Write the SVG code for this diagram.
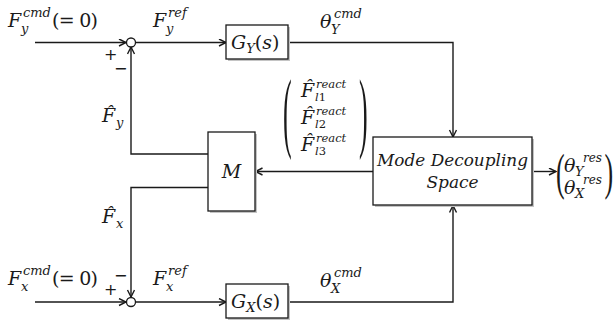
<svg xmlns="http://www.w3.org/2000/svg" width="613" height="324" viewBox="0 0 613 324">
  <defs>
    <marker id="arr" markerUnits="userSpaceOnUse" markerWidth="10" markerHeight="10" refX="8" refY="4" orient="auto">
      <path d="M1,0.5 L8,4 L1,7.5" fill="none" stroke="#1a1a1a" stroke-width="1.4"/>
    </marker>
  </defs>
  <style>
    .ln { fill: none; stroke: #1a1a1a; stroke-width: 1.4; }
    .box { fill: #ffffff; stroke: #1a1a1a; stroke-width: 1.3; }
    .shadow { fill: #c4c4c4; }
    .sum { fill: #ffffff; stroke: #1a1a1a; stroke-width: 1.3; }
    text { font-family: "DejaVu Serif", "Liberation Serif", serif; fill: #1a1a1a; }
    .m { font-size: 19px; font-style: italic; }
    .up { font-style: normal; }
    .s { font-size: 13px; font-style: italic; }
    .r { font-size: 12px; font-style: italic; }
    .v { font-size: 11.5px; font-style: italic; }
    .lbl { font-size: 17px; font-style: italic; }
    .pm { font-family: "DejaVu Sans", sans-serif; font-size: 16px; }
    .par { font-family: "Liberation Serif", serif; font-size: 26px; font-weight: normal; }
  </style>

  <!-- signal lines -->
  <g id="connectors">
    <path class="ln" d="M35,42.5 H126" marker-end="url(#arr)"/>
    <path class="ln" d="M136,42.5 H226" marker-end="url(#arr)"/>
    <path class="ln" d="M288,42.5 H453 V137" marker-end="url(#arr)"/>
    <path class="ln" d="M373,171.5 H255.5" marker-end="url(#arr)"/>
    <path class="ln" d="M208,154 H131 V47" marker-end="url(#arr)"/>
    <path class="ln" d="M208,187.5 H131 V297" marker-end="url(#arr)"/>
    <path class="ln" d="M35,302 H126" marker-end="url(#arr)"/>
    <path class="ln" d="M136,302 H226" marker-end="url(#arr)"/>
    <path class="ln" d="M288,302 H453 V205.5" marker-end="url(#arr)"/>
    <path class="ln" d="M532,171.5 H556" marker-end="url(#arr)"/>
  </g>

  <!-- summing junction, Y axis -->
  <g id="sumY">
    <circle class="sum" cx="131" cy="42.5" r="4.5"/>
    <text class="pm" x="104" y="60">+</text>
    <text class="pm" x="114" y="74">−</text>
  </g>

  <!-- summing junction, X axis -->
  <g id="sumX">
    <circle class="sum" cx="131" cy="302" r="4.5"/>
    <text class="pm" x="114" y="281">−</text>
    <text class="pm" x="104" y="295">+</text>
  </g>

  <!-- controller G_Y(s) -->
  <g id="GY">
    <rect class="shadow" x="228" y="27" width="62" height="34"/>
    <rect class="box" x="226" y="25" width="62" height="34"/>
    <text class="m" x="231" y="48.5">G<tspan class="s" dy="4">Y</tspan><tspan class="up" dy="-4">(</tspan>s<tspan class="up">)</tspan></text>
  </g>

  <!-- controller G_X(s) -->
  <g id="GX">
    <rect class="shadow" x="228" y="286" width="62" height="34"/>
    <rect class="box" x="226" y="284" width="62" height="34"/>
    <text class="m" x="231" y="307.5">G<tspan class="s" dy="4">X</tspan><tspan class="up" dy="-4">(</tspan>s<tspan class="up">)</tspan></text>
  </g>

  <!-- force mapping M -->
  <g id="M">
    <rect class="shadow" x="210" y="134" width="47" height="79"/>
    <rect class="box" x="208" y="132" width="47" height="79"/>
    <text class="m" x="231.5" y="178" text-anchor="middle">M</text>
  </g>

  <!-- mode decoupling block -->
  <g id="modeDecoupling">
    <rect class="shadow" x="375" y="139" width="159" height="68"/>
    <rect class="box" x="373" y="137" width="159" height="68"/>
    <text class="lbl" x="452.5" y="166" text-anchor="middle" textLength="151" lengthAdjust="spacingAndGlyphs">Mode Decoupling</text>
    <text class="lbl" x="452.5" y="188" text-anchor="middle">Space</text>
  </g>

  <!-- signal labels -->
  <g id="labels">
    <text class="m" x="8" y="27">F<tspan class="s" x="23" y="16.5">cmd</tspan><tspan class="s" x="21" y="32.5">y</tspan><tspan class="up" x="52" y="27" textLength="46">(= 0)</tspan></text>
    <text class="m" x="153" y="27">F<tspan class="s" x="168" y="16.5">ref</tspan><tspan class="s" x="166" y="32.5">y</tspan></text>
    <text class="m" x="320" y="28">θ<tspan class="s" x="334" y="17.5">cmd</tspan><tspan class="s" x="331" y="33.5">Y</tspan></text>

    <text class="m" x="8" y="285">F<tspan class="s" x="23" y="274.5">cmd</tspan><tspan class="s" x="21" y="290.5">x</tspan><tspan class="up" x="52" y="285" textLength="46">(= 0)</tspan></text>
    <text class="m" x="153" y="285">F<tspan class="s" x="168" y="274.5">ref</tspan><tspan class="s" x="166" y="290.5">x</tspan></text>
    <text class="m" x="320" y="287">θ<tspan class="s" x="334" y="276.5">cmd</tspan><tspan class="s" x="331" y="292.5">X</tspan></text>

    <text class="m" x="102" y="122">F̂<tspan class="s" x="116" y="127">y</tspan></text>
    <text class="m" x="102" y="223">F̂<tspan class="s" x="116" y="228">x</tspan></text>

    <!-- estimated reaction forces -->
    <text class="par" transform="translate(283,140.5) scale(1,3.45)">(</text>
    <text class="par" transform="translate(359,140.5) scale(1,3.45)">)</text>
    <text class="m" x="301" y="96.5">F̂<tspan class="v" x="316" y="87.5">react</tspan><tspan class="v" x="315" y="101.2">l<tspan class="up">1</tspan></tspan></text>
    <text class="m" x="301" y="123.5">F̂<tspan class="v" x="316" y="114.5">react</tspan><tspan class="v" x="315" y="128.2">l<tspan class="up">2</tspan></tspan></text>
    <text class="m" x="301" y="150.5">F̂<tspan class="v" x="316" y="141.5">react</tspan><tspan class="v" x="315" y="155.2">l<tspan class="up">3</tspan></tspan></text>

    <!-- resulting angles -->
    <text class="par" transform="translate(556,189) scale(1,1.94)">(</text>
    <text class="par" transform="translate(604.5,189) scale(1,1.94)">)</text>
    <text class="m" x="564" y="172">θ<tspan class="r" x="583" y="162">res</tspan><tspan class="s" x="575" y="176" font-size="11">Y</tspan></text>
    <text class="m" x="564" y="194">θ<tspan class="r" x="583" y="184">res</tspan><tspan class="s" x="575" y="198" font-size="11">X</tspan></text>
  </g>
</svg>
